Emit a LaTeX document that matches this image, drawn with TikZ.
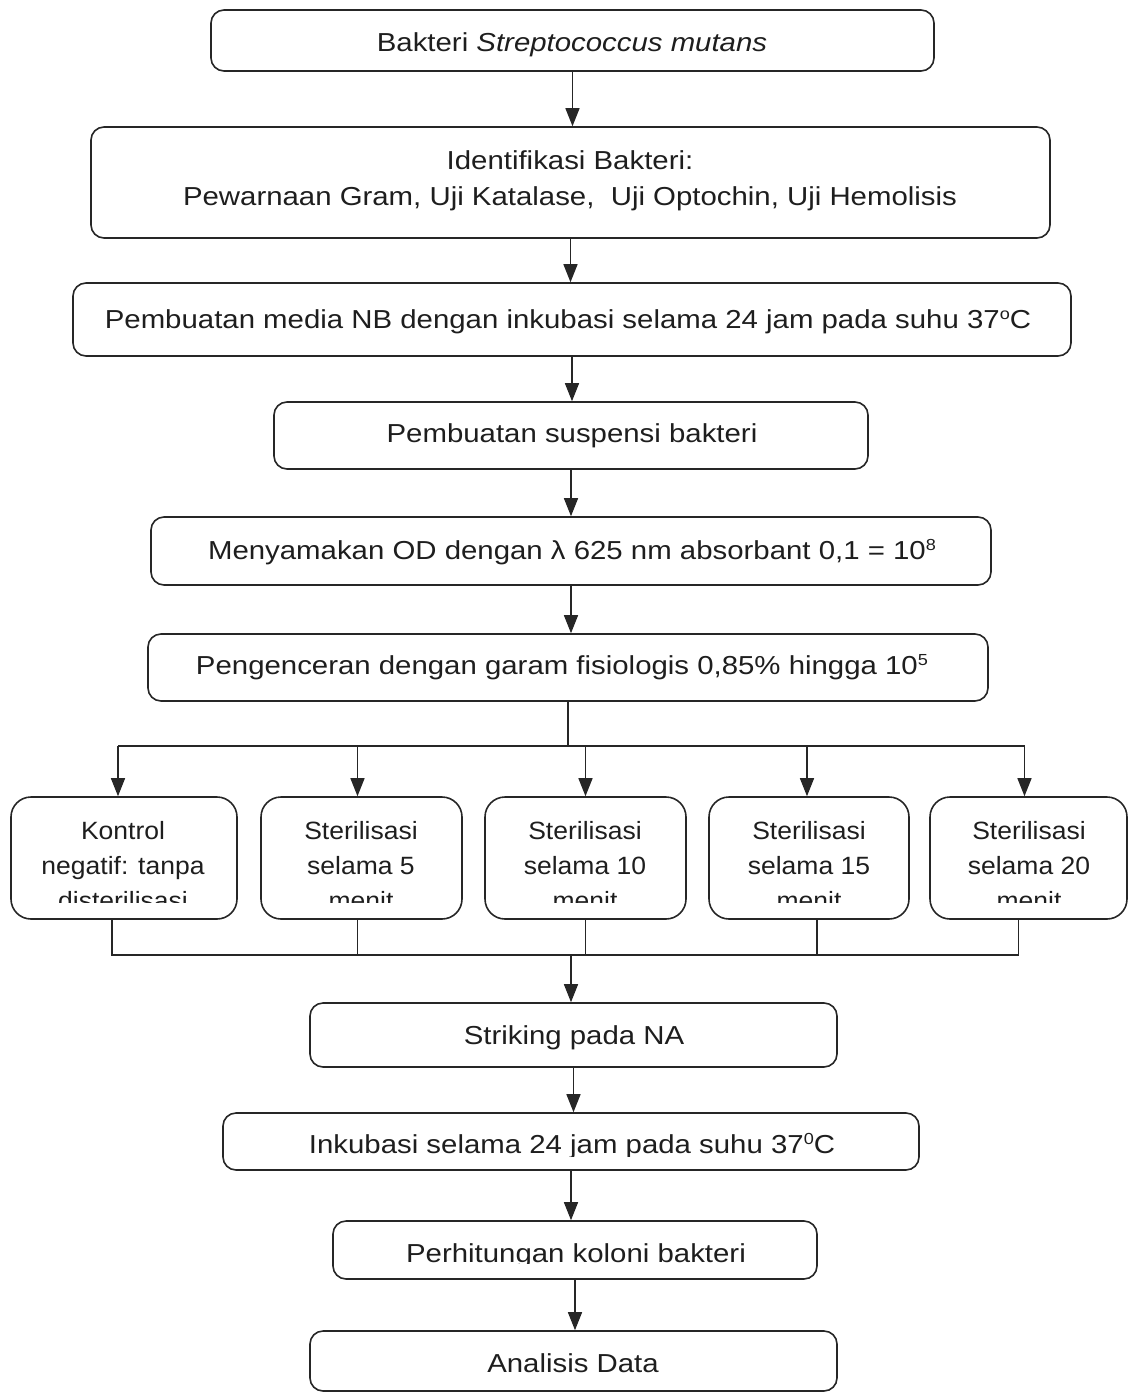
\documentclass[tikz,border=0pt]{standalone}
\usepackage{fontspec}
\setmainfont{Liberation Sans}
\newfontfamily\fmain{Liberation Sans}[FakeStretch=1.13]
\newfontfamily\frow{Liberation Sans}[FakeStretch=1.06]
\usetikzlibrary{arrows.meta}
\definecolor{lnc}{HTML}{262626}
\definecolor{txc}{HTML}{1E1E1E}
\newcommand{\mysup}[1]{\raisebox{9pt}{\fontsize{16}{16}\selectfont #1}}
\begin{document}
\begin{tikzpicture}[x=1pt,y=-1pt,
 box/.style={draw=lnc, line width=1.6pt, rounded corners=13pt, inner sep=0pt},
 rbox/.style={box, rounded corners=20pt},
 txt/.style={font=\fmain\fontsize{26}{30}\selectfont, text=txc, inner sep=0pt, anchor=base},
 rtxt/.style={font=\frow\fontsize{25}{30}\selectfont, text=txc, inner sep=0pt, anchor=base},
 arr/.style={draw=lnc, line width=1.4pt, -{Triangle[width=14pt,length=18pt]}},
 conn/.style={draw=lnc, line width=1.4pt}]
\useasboundingbox (0,0) rectangle (1129,1392);
% main boxes
\node[box, minimum width=723pt, minimum height=61pt] (b1) at (572.5,40.5) {};
\node[box, minimum width=959pt, minimum height=111pt] (b2) at (570.5,182.5) {};
\node[box, minimum width=998pt, minimum height=73pt] (b3) at (572,319.5) {};
\node[box, minimum width=594pt, minimum height=67pt] (b4) at (571,435.5) {};
\node[box, minimum width=840pt, minimum height=68pt] (b5) at (571,551) {};
\node[box, minimum width=840pt, minimum height=67pt] (b6) at (568,667.5) {};
% row boxes
\node[rbox, minimum width=226pt, minimum height=122pt] (ka) at (124,858) {};
\node[rbox, minimum width=201pt, minimum height=122pt] (kb) at (361.5,858) {};
\node[rbox, minimum width=201pt, minimum height=122pt] (kc) at (585.5,858) {};
\node[rbox, minimum width=200pt, minimum height=122pt] (kd) at (809,858) {};
\node[rbox, minimum width=197pt, minimum height=122pt] (ke) at (1028.5,858) {};
% lower boxes
\node[box, minimum width=527pt, minimum height=64pt] (s1) at (573.5,1035) {};
\node[box, minimum width=696pt, minimum height=57pt] (s2) at (571,1141.5) {};
\node[box, minimum width=484pt, minimum height=58pt] (s3) at (575,1250) {};
\node[box, minimum width=527pt, minimum height=60pt] (s4) at (573.5,1361) {};
% texts
\node[txt] (t1) at (572,51) {Bakteri \textit{Streptococcus mutans}};
\node[txt] (t2a) at (570,169) {Identifikasi Bakteri:};
\node[txt] (t2b) at (570,205) {Pewarnaan Gram, Uji Katalase,\ \ Uji Optochin, Uji Hemolisis};
\node[txt] (t3) at (568,328) {Pembuatan media NB dengan inkubasi selama 24 jam pada suhu 37\mysup{o}C};
\node[txt] (t4) at (572,442) {Pembuatan suspensi bakteri};
\node[txt] (t5) at (572,559) {Menyamakan OD dengan λ 625 nm absorbant 0,1 = 10\mysup{8}};
\node[txt] (t6) at (562,674) {Pengenceran dengan garam fisiologis 0,85\% hingga 10\mysup{5}};
\begin{scope}
\clip (0,780) rectangle (1129,902);
\node[rtxt] (ta1) at (123,839) {Kontrol};
\node[rtxt] (ta2) at (123,874) {negatif: tanpa};
\node[rtxt] (ta3) at (123,909) {disterilisasi};
\node[rtxt] (tb1) at (361,839) {Sterilisasi};
\node[rtxt] (tb2) at (361,874) {selama 5};
\node[rtxt] (tb3) at (361,909) {menit};
\node[rtxt] (tc1) at (585,839) {Sterilisasi};
\node[rtxt] (tc2) at (585,874) {selama 10};
\node[rtxt] (tc3) at (585,909) {menit};
\node[rtxt] (td1) at (809,839) {Sterilisasi};
\node[rtxt] (td2) at (809,874) {selama 15};
\node[rtxt] (td3) at (809,909) {menit};
\node[rtxt] (te1) at (1029,839) {Sterilisasi};
\node[rtxt] (te2) at (1029,874) {selama 20};
\node[rtxt] (te3) at (1029,909) {menit};
\end{scope}
\node[txt] (ts1) at (574,1044) {Striking pada NA};
\begin{scope}
\clip (200,1110) rectangle (940,1156);
\node[txt] (ts2) at (572,1153) {Inkubasi selama 24 jam pada suhu 37\mysup{0}C};
\end{scope}
\begin{scope}
\clip (300,1225) rectangle (850,1263);
\node[txt] (ts3) at (576,1262) {Perhitungan koloni bakteri};
\end{scope}
\node[txt] (ts4) at (573,1372) {Analisis Data};
% connectors
\draw[arr] (b1.south) -- (b1.south |- b2.north);
\draw[arr] (b2.south) -- (b2.south |- b3.north);
\draw[arr] (b3.south) -- (b3.south |- b4.north);
\draw[arr] (b4.south) -- (b4.south |- b5.north);
\draw[arr] (b5.south) -- (b5.south |- b6.north);
\coordinate (top) at (568,746);
\coordinate (jn) at (571,955);
\draw[conn] (b6.south) -- (top);
\draw[conn] ([xshift=-6pt]ka.north |- top) -- ([xshift=-4pt]ke.north |- top);
\draw[arr] ([xshift=-6pt]ka.north |- top) -- ([xshift=-6pt]ka.north);
\draw[arr] ([xshift=-4pt]kb.north |- top) -- ([xshift=-4pt]kb.north);
\draw[arr] ([xshift=0pt]kc.north |- top) -- ([xshift=0pt]kc.north);
\draw[arr] ([xshift=-2pt]kd.north |- top) -- ([xshift=-2pt]kd.north);
\draw[arr] ([xshift=-4pt]ke.north |- top) -- ([xshift=-4pt]ke.north);
\draw[conn] ([xshift=-12pt]ka.south) -- ([xshift=-12pt]ka.south |- jn) -- ([xshift=-10pt]ke.south |- jn) -- ([xshift=-10pt]ke.south);
\draw[conn] ([xshift=-4pt]kb.south) -- ([xshift=-4pt]kb.south |- jn);
\draw[conn] ([xshift=0pt]kc.south) -- ([xshift=0pt]kc.south |- jn);
\draw[conn] ([xshift=8pt]kd.south) -- ([xshift=8pt]kd.south |- jn);
\draw[arr] (jn) -- (jn |- s1.north);
\draw[arr] (s1.south) -- (s1.south |- s2.north);
\draw[arr] (s2.south) -- (s2.south |- s3.north);
\draw[arr] (s3.south) -- (s3.south |- s4.north);
\end{tikzpicture}
\end{document}
